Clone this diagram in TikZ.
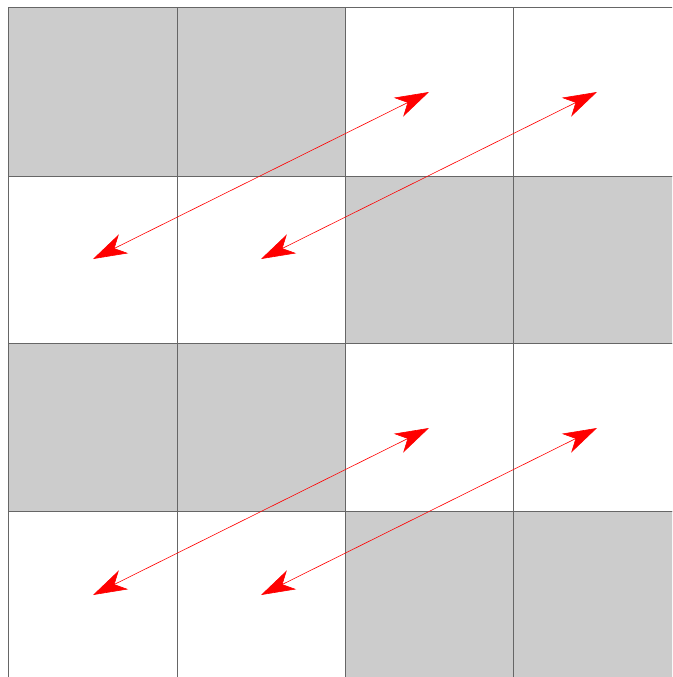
\documentclass[tikz,border=0pt]{standalone}
\usetikzlibrary{arrows.meta}
\begin{document}
\begin{tikzpicture}[x=1pt,y=-1pt,
  cellw/.style={draw=black!60,line width=0.8pt,fill=white},
  cellg/.style={draw=black!60,line width=0.8pt,fill=black!20},
  dbl/.style={red,line width=0.6pt,{Stealth[length=34pt,width=21pt,inset=10pt]}-{Stealth[length=34pt,width=21pt,inset=10pt]}}]
\useasboundingbox (0,0) rectangle (672,677);
\clip (0,0) rectangle (672,677);
\foreach \r/\y/\yy in {0/7/176,1/176/343,2/343/511,3/511/679}{
  \foreach \c/\x/\xx in {0/8/177,1/177/345,2/345/513,3/513/681}{
    \pgfmathtruncatemacro{\g}{mod(\r+(\c>1?1:0),2)==0 ? 1 : 0}
    \ifnum\g=1
      \path[cellg] (\x,\y) rectangle (\xx,\yy);
    \else
      \path[cellw] (\x,\y) rectangle (\xx,\yy);
    \fi
  }
}
\coordinate (a1) at (93,259);  \coordinate (b1) at (429,92);
\coordinate (a2) at (261,259); \coordinate (b2) at (597,92);
\coordinate (a3) at (93,595);  \coordinate (b3) at (429,428);
\coordinate (a4) at (261,595); \coordinate (b4) at (597,428);
\draw[dbl] (a1) -- (b1);
\draw[dbl] (a2) -- (b2);
\draw[dbl] (a3) -- (b3);
\draw[dbl] (a4) -- (b4);
\end{tikzpicture}
\end{document}
